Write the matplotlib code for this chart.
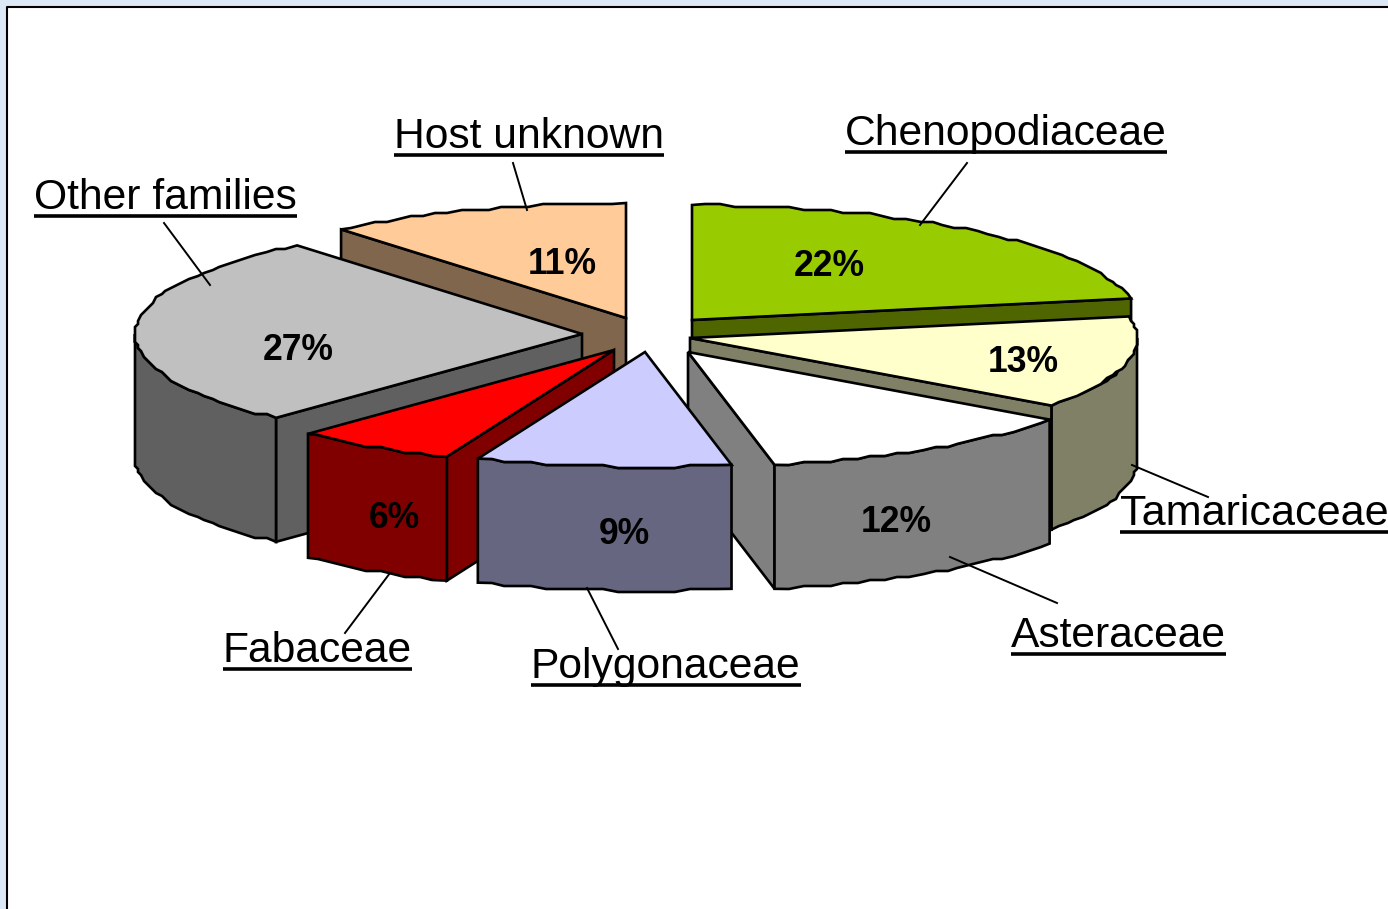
import numpy as np
import matplotlib
matplotlib.use('Agg')
import matplotlib.pyplot as plt

plt.rcParams['font.family'] = ['Liberation Sans', 'DejaVu Sans']

# pie data, clockwise from 12 o'clock
families = ['Chenopodiaceae', 'Tamaricaceae', 'Asteraceae', 'Polygonaceae',
            'Fabaceae', 'Other families', 'Host unknown']
shares = [22, 13, 11.9, 9.2, 5.9, 27, 11]

# look of the slices
top_colors = ['#99cc00', '#ffffcc', '#ffffff', '#ccccff', '#ff0000', '#c0c0c0', '#ffcc99']
side_colors = ['#4f6600', '#808066', '#808080', '#666680', '#800000', '#606060', '#80664d']
apex_x = [692, 690, 688, 645, 614, 582, 626]
apex_y = [320, 338, 352, 352, 350, 334, 318]
draw_order = [0, 1, 2, 6, 5, 4, 3]

# pie shape in pixels
rx = 447
ry = 115
depth = 124

# label text position, then leader line start and end
label_x = [845, 1120, 1011, 531, 223, 34, 394]
label_y = [145, 525, 647, 678, 662, 209, 148]
label_size = [30.7, 31.1, 30.7, 30.7, 30.7, 30.7, 30.7]
line_x = [(967, 920), (1208, 1132), (1057, 950), (618, 587), (345, 390), (164, 210), (513, 527)]
line_y = [(163, 225), (497, 465), (603, 557), (649, 588), (633, 573), (223, 285), (163, 210)]
pct_x = [829, 1023, 896, 624, 394, 298, 562]
pct_y = [266, 362, 523, 535, 519, 350, 264]


def arc_points(cx, cy, a1, a2):
    # arc snapped to a small grid to get the bumpy edge of the original
    n = max(int((a2 - a1) / 1.8), 1)
    ang = np.radians(np.linspace(a1, a2, n + 1))
    xs = cx + rx * np.sin(ang)
    ys = cy - ry * np.cos(ang)
    xs[1:-1] = np.round(xs[1:-1] / 3) * 3
    ys[1:-1] = np.round(ys[1:-1] / 3) * 3
    return xs, ys


fig = plt.figure(figsize=(13.88, 9.09), dpi=100, facecolor='#dde8f6')
ax = fig.add_axes([0, 0, 1, 1])
ax.set_xlim(0, 1388)
ax.set_ylim(909, 0)
ax.axis('off')

# white panel
ax.fill([7, 1388, 1388, 7], [7, 7, 909, 909], color='white', zorder=0)
ax.plot([7, 7, 1388], [909, 7, 7], color='black', lw=1.5, zorder=1)

angles = np.concatenate([[0], np.cumsum(shares)]) * 360 / sum(shares)
edge = dict(edgecolor='black', linewidth=1.9, joinstyle='miter')

z = 2
for i in draw_order:
    a1, a2 = angles[i], angles[i + 1]
    cx, cy = apex_x[i], apex_y[i]

    # cut faces, only those turned towards the viewer
    faces = []
    if a2 <= 180:
        faces.append(a2)
    if a1 >= 180:
        faces.append(a1)
    for a in faces:
        ex = cx + rx * np.sin(np.radians(a))
        ey = cy - ry * np.cos(np.radians(a))
        ax.fill([cx, ex, ex, cx], [cy, ey, ey + depth, cy + depth],
                facecolor=side_colors[i], zorder=z, **edge)

    # outer wall, only the part that faces the front
    s1, s2 = max(a1, 90), min(a2, 270)
    if s2 > s1:
        xs, ys = arc_points(cx, cy, s1, s2)
        ax.fill(np.r_[xs, xs[::-1]], np.r_[ys, ys[::-1] + depth],
                facecolor=side_colors[i], zorder=z, **edge)

    # top
    xs, ys = arc_points(cx, cy, a1, a2)
    ax.fill(np.r_[cx, xs], np.r_[cy, ys], facecolor=top_colors[i], zorder=z, **edge)
    z += 1

# texts
for i, name in enumerate(families):
    ax.plot(line_x[i], line_y[i], color='black', lw=1.4, zorder=50)
    t = ax.text(label_x[i], label_y[i], name, fontsize=label_size[i], ha='left', va='baseline',
                color='black', zorder=60)
    fig.canvas.draw()
    bb = t.get_window_extent()
    ax.plot([label_x[i], bb.x1], [label_y[i] + 6.5] * 2, color='black', lw=2.6,
            solid_capstyle='butt', zorder=60)
    ax.text(pct_x[i], pct_y[i], '%d%%' % round(shares[i]), fontsize=25.6, fontweight='bold',
            ha='center', va='center', color='black', zorder=60)

fig.savefig('out.png', dpi=100, facecolor=fig.get_facecolor())
